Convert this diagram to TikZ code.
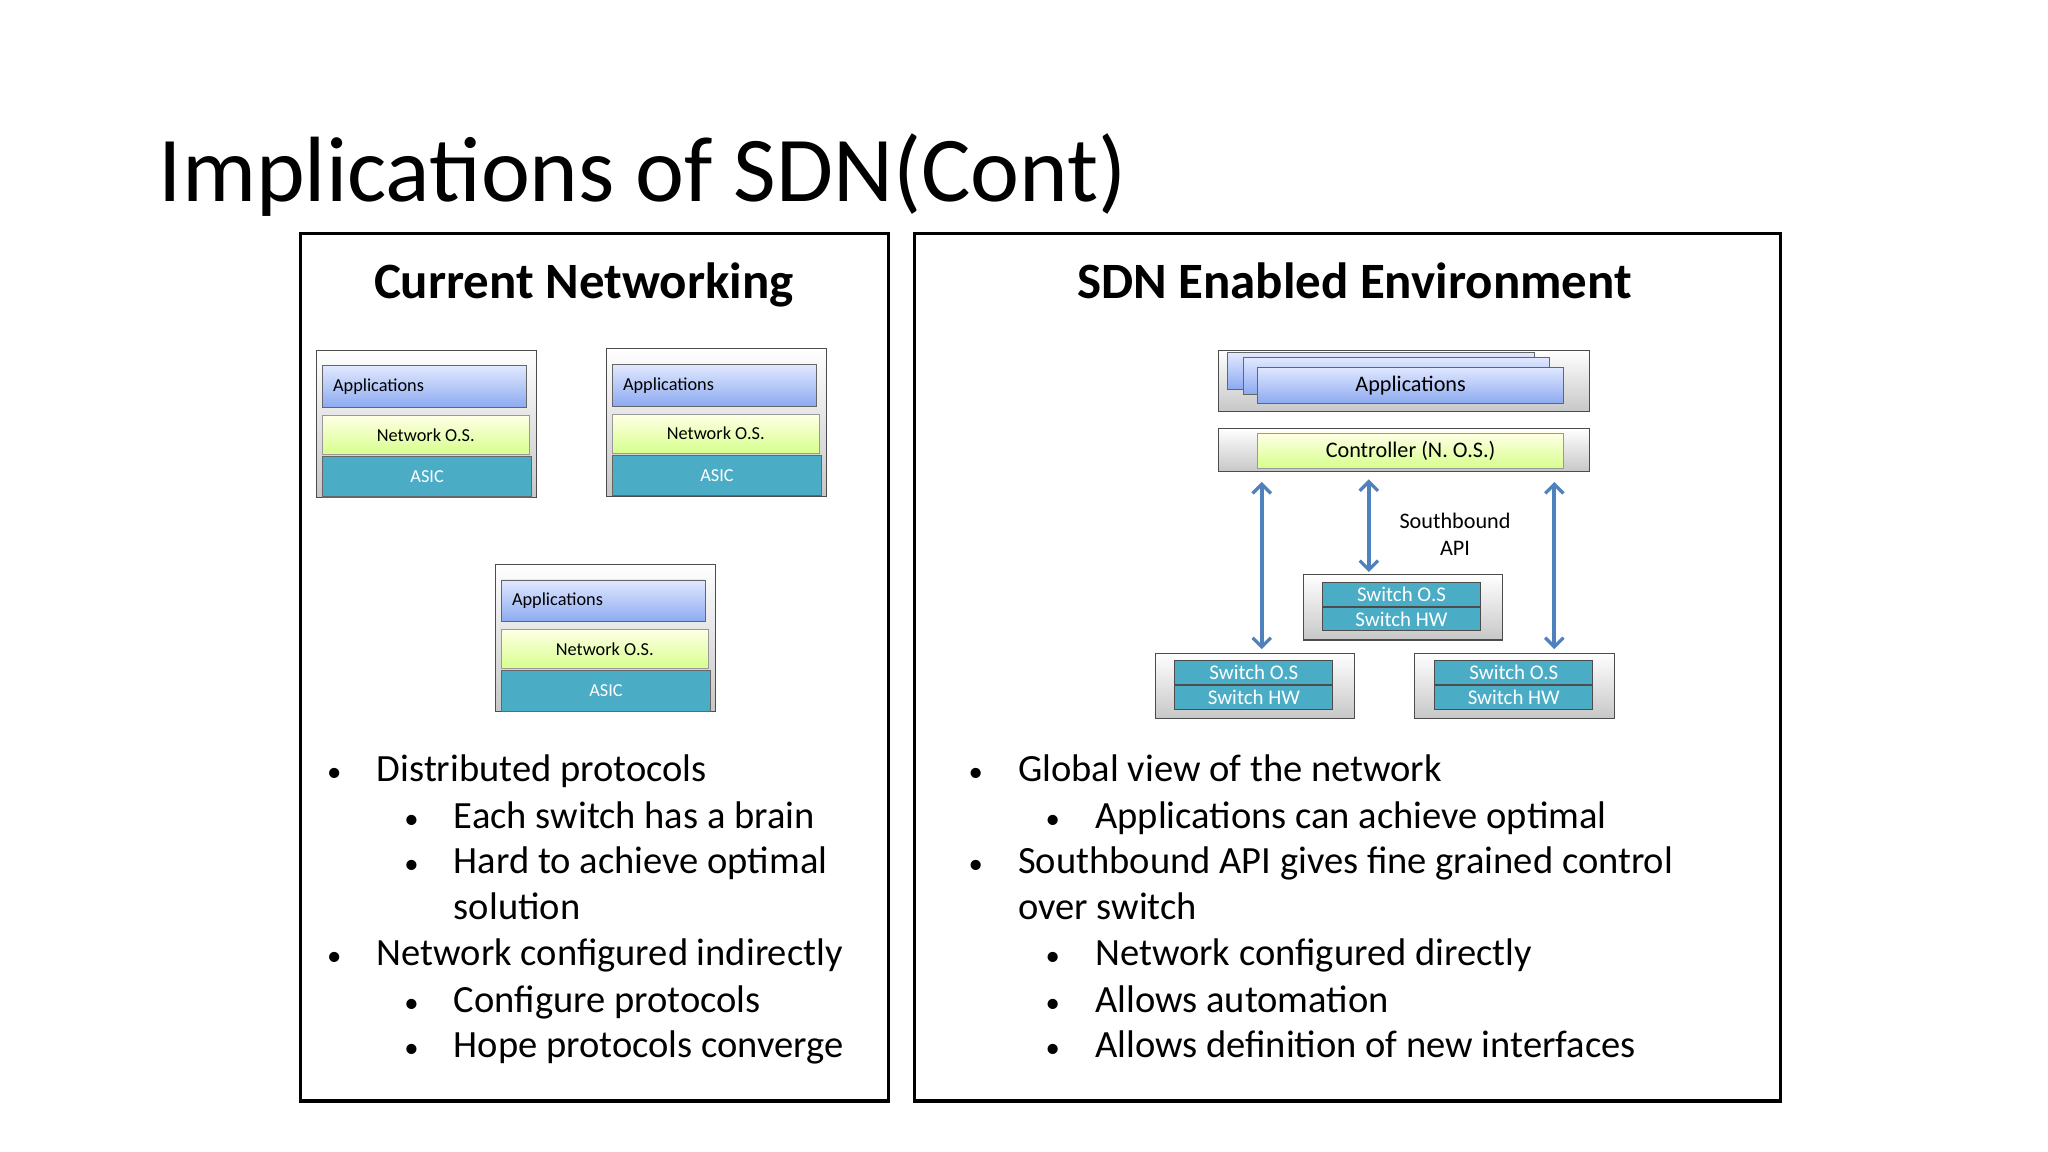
\documentclass[tikz,border=0pt]{standalone}
\usepackage{fontspec}
\setmainfont{Carlito}
\usetikzlibrary{arrows.meta}
\begin{document}
\begin{tikzpicture}[x=1pt,y=-1pt,
 frame/.style={draw=black,line width=2.5pt},
 outer/.style={draw=black!70,line width=0.8pt,top color=white,bottom color=black!22},
 app/.style={draw=black!60,line width=0.6pt,top color={rgb,255:red,225;green,232;blue,255},bottom color={rgb,255:red,140;green,170;blue,240},font=\fontsize{14}{14}\selectfont},
 nos/.style={draw=black!40,line width=0.6pt,top color=yellow!10,bottom color=green!35!yellow!45,font=\fontsize{14}{14}\selectfont},
 asic/.style={draw=black!60,line width=0.8pt,fill={rgb,255:red,75;green,172;blue,198},text=white,font=\fontsize{14}{14}\selectfont},
 sw/.style={draw=black!70,line width=0.8pt,fill={rgb,255:red,75;green,172;blue,198},text=white,font=\fontsize{16}{16}\selectfont},
 arr/.style={draw={rgb,255:red,79;green,129;blue,189},line width=3pt,{Straight Barb[length=7pt,width=14pt,line width=2.5pt]}-{Straight Barb[length=7pt,width=14pt,line width=2.5pt]}},
 body/.style={anchor=base west,font=\fontsize{29.5}{29.5}\selectfont},
 bul/.style={anchor=base west,font=\fontsize{22}{22}\selectfont},
 pics/stack/.style={code={
  \draw[outer] (0,0) rectangle (169,113);
  \node[app,minimum width=156pt,minimum height=32pt,text width=140pt,align=left] (-a) at (83,28) {Applications};
  \node[nos,minimum width=158pt,minimum height=30pt] (-n) at (84,65) {Network O.S.};
  \node[asic,minimum width=160pt,minimum height=31pt] (-s) at (85,97) {ASIC};
 }}]
\useasboundingbox (0,0) rectangle (1568,882);
\fill[white] (0,0) rectangle (1568,882);
\node[anchor=base west,font=\fontsize{71}{71}\selectfont] (title) at (118,154) {Implications of SDN(Cont)};
\draw[frame] (230,179) rectangle (680,843);
\draw[frame] (700,179) rectangle (1363,843);
\node[font=\fontsize{39}{39}\selectfont\bfseries] (h1) at (447,218) {Current Networking};
\node[font=\fontsize{39}{39}\selectfont\bfseries] (h2) at (1037,215) {SDN Enabled Environment};
\pic (s1) at (242,268) {stack};
\pic (s2) at (464,267) {stack};
\pic (s3) at (379,432) {stack};
% right diagram
\draw[outer] (933,268) rectangle (1217,315);
\draw[app] (940,270) rectangle (1175,298);
\draw[app] (952,274) rectangle (1186,302);
\node[app,minimum width=234pt,minimum height=28pt,font=\fontsize{17}{17}\selectfont] (apps) at (1080,295) {Applications};
\draw[outer] (933,328) rectangle (1217,361);
\node[nos,minimum width=234pt,minimum height=27pt,font=\fontsize{17}{17}\selectfont] (ctrl) at (1080,345) {Controller (N. O.S.)};
\draw[outer] (998,440) rectangle (1150,490);
\node[sw,minimum width=121pt,minimum height=18pt,inner sep=0pt] (m1) at (1073,455) {Switch O.S};
\node[sw,minimum width=121pt,minimum height=18pt,inner sep=0pt] (m2) at (1073,474) {Switch HW};
\draw[outer] (885,500) rectangle (1037,550);
\node[sw,minimum width=121pt,minimum height=18pt,inner sep=0pt] (l1) at (960,515) {Switch O.S};
\node[sw,minimum width=121pt,minimum height=18pt,inner sep=0pt] (l2) at (960,534) {Switch HW};
\draw[outer] (1083,500) rectangle (1236,550);
\node[sw,minimum width=121pt,minimum height=18pt,inner sep=0pt] (r1) at (1159,515) {Switch O.S};
\node[sw,minimum width=121pt,minimum height=18pt,inner sep=0pt] (r2) at (1159,534) {Switch HW};
\coordinate (c1) at (966,369); \coordinate (c2) at (1048,367); \coordinate (c3) at (1190,369);
\coordinate (d1) at (966,497); \coordinate (d3) at (1190,497); \coordinate (d2) at (1048,438);
\draw[arr] (c1) -- (d1);
\draw[arr] (c2) -- (d2);
\draw[arr] (c3) -- (d3);
\node[align=center,font=\fontsize{17}{21}\selectfont] (sb) at (1114,409) {Southbound\\API};
% bullets left
\foreach \y/\t in {598/Distributed protocols,739/Network configured indirectly}
  {\node[bul] at (247,\y) {•}; \node[body] at (285,\y) {\t};}
\foreach \y/\t in {634/Each switch has a brain,669/Hard to achieve optimal,775/Configure protocols,810/Hope protocols converge}
  {\node[bul] at (306,\y) {•}; \node[body] at (344,\y) {\t};}
\node[body] at (344,704) {solution};
% bullets right
\foreach \y/\t in {598/Global view of the network,669/Southbound API gives fine grained control}
  {\node[bul] at (738,\y) {•}; \node[body] at (776,\y) {\t};}
\node[body] at (776,704) {over switch};
\foreach \y/\t in {634/Applications can achieve optimal,739/Network configured directly,775/Allows automation,810/Allows definition of new interfaces}
  {\node[bul] at (797,\y) {•}; \node[body] at (835,\y) {\t};}
\end{tikzpicture}
\end{document}
